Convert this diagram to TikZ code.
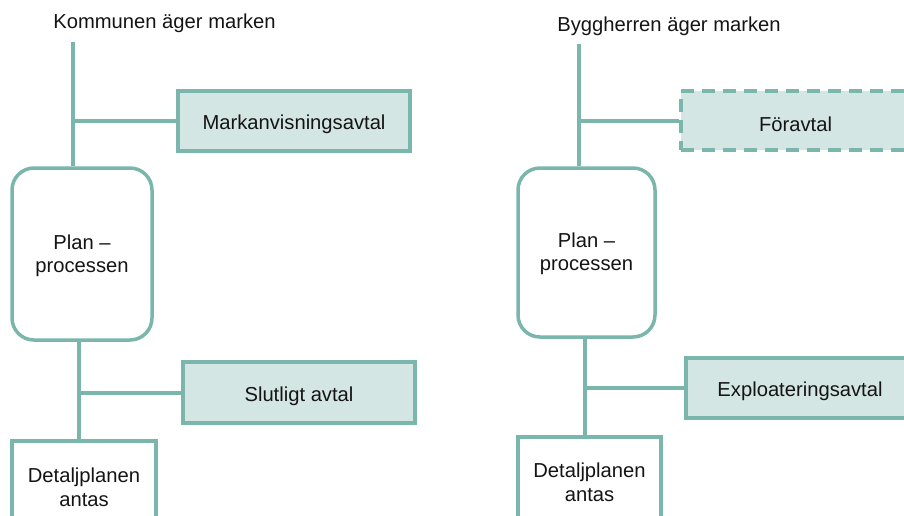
\documentclass[tikz,border=0pt]{standalone}
\usepackage{fontspec}
\setmainfont{Liberation Sans}
\definecolor{teal}{RGB}{122,182,172}
\definecolor{tealfill}{RGB}{212,230,227}
\definecolor{txt}{RGB}{20,20,20}
\newcommand{\lowtext}[2][3.5pt]{\raisebox{-#1}[\height][\depth]{#2}}
\begin{document}
\begin{tikzpicture}[x=1pt,y=-1pt,
  every node/.style={font=\fontsize{20.2}{24}\selectfont, text=txt},
  conn/.style={draw=teal, line width=4pt},
  agree/.style={draw=teal, fill=tealfill, line width=4pt, rectangle, inner sep=0pt},
  dashagree/.style={agree, dash pattern=on 13pt off 8pt},
  planbox/.style={draw=teal, fill=white, line width=3.5pt, rounded corners=22pt, inner sep=0pt, align=center},
  endbox/.style={draw=teal, fill=white, line width=4pt, inner sep=0pt, align=center}]
\useasboundingbox (0,0) rectangle (904,515);
\clip (0,0) rectangle (904,515);
% left column
\node (title1) at (164.5,23) {Kommunen äger marken};
\coordinate (t1) at (73,42);
\node[agree, minimum width=232pt, minimum height=60pt] (mark) at (294,120.5) {\lowtext{Markanvisningsavtal}};
\node[planbox, minimum width=140pt, minimum height=172pt] (plan1) at (82,254) {\lowtext[2pt]{\begin{tabular}{@{}c@{}}Plan –\\[-1pt]processen\end{tabular}}};
\node[agree, minimum width=232pt, minimum height=61pt] (slut) at (299,392.5) {\lowtext{Slutligt avtal}};
\node[endbox, minimum width=144pt, minimum height=92pt] (det1) at (84,487) {Detaljplanen\\antas};
\draw[conn] (t1) -- (t1 |- plan1.north);
\draw[conn] (t1 |- mark.west) -- (mark.west);
\coordinate (b1) at (79,340);
\draw[conn] (b1) -- (b1 |- det1.north);
\draw[conn] (b1 |- slut.west) -- (slut.west);
% right column
\node (title2) at (669,26) {Byggherren äger marken};
\coordinate (t2) at (579,44);
\node[dashagree, minimum width=229pt, minimum height=59pt] (fore) at (795.5,120.5) {\lowtext{Föravtal}};
\node[planbox, minimum width=137pt, minimum height=169pt] (plan2) at (586.5,252.5) {\lowtext[2pt]{\begin{tabular}{@{}c@{}}Plan –\\[-1pt]processen\end{tabular}}};
\node[agree, minimum width=228pt, minimum height=60pt] (expl) at (800,388) {\lowtext{Exploateringsavtal}};
\node[endbox, minimum width=143pt, minimum height=90pt] (det2) at (589.5,482) {Detaljplanen\\antas};
\draw[conn] (t2) -- (t2 |- plan2.north);
\draw[conn] (t2 |- fore.west) -- (fore.west);
\coordinate (b2) at (585,337);
\draw[conn] (b2) -- (b2 |- det2.north);
\draw[conn] (b2 |- expl.west) -- (expl.west);
\end{tikzpicture}
\end{document}
